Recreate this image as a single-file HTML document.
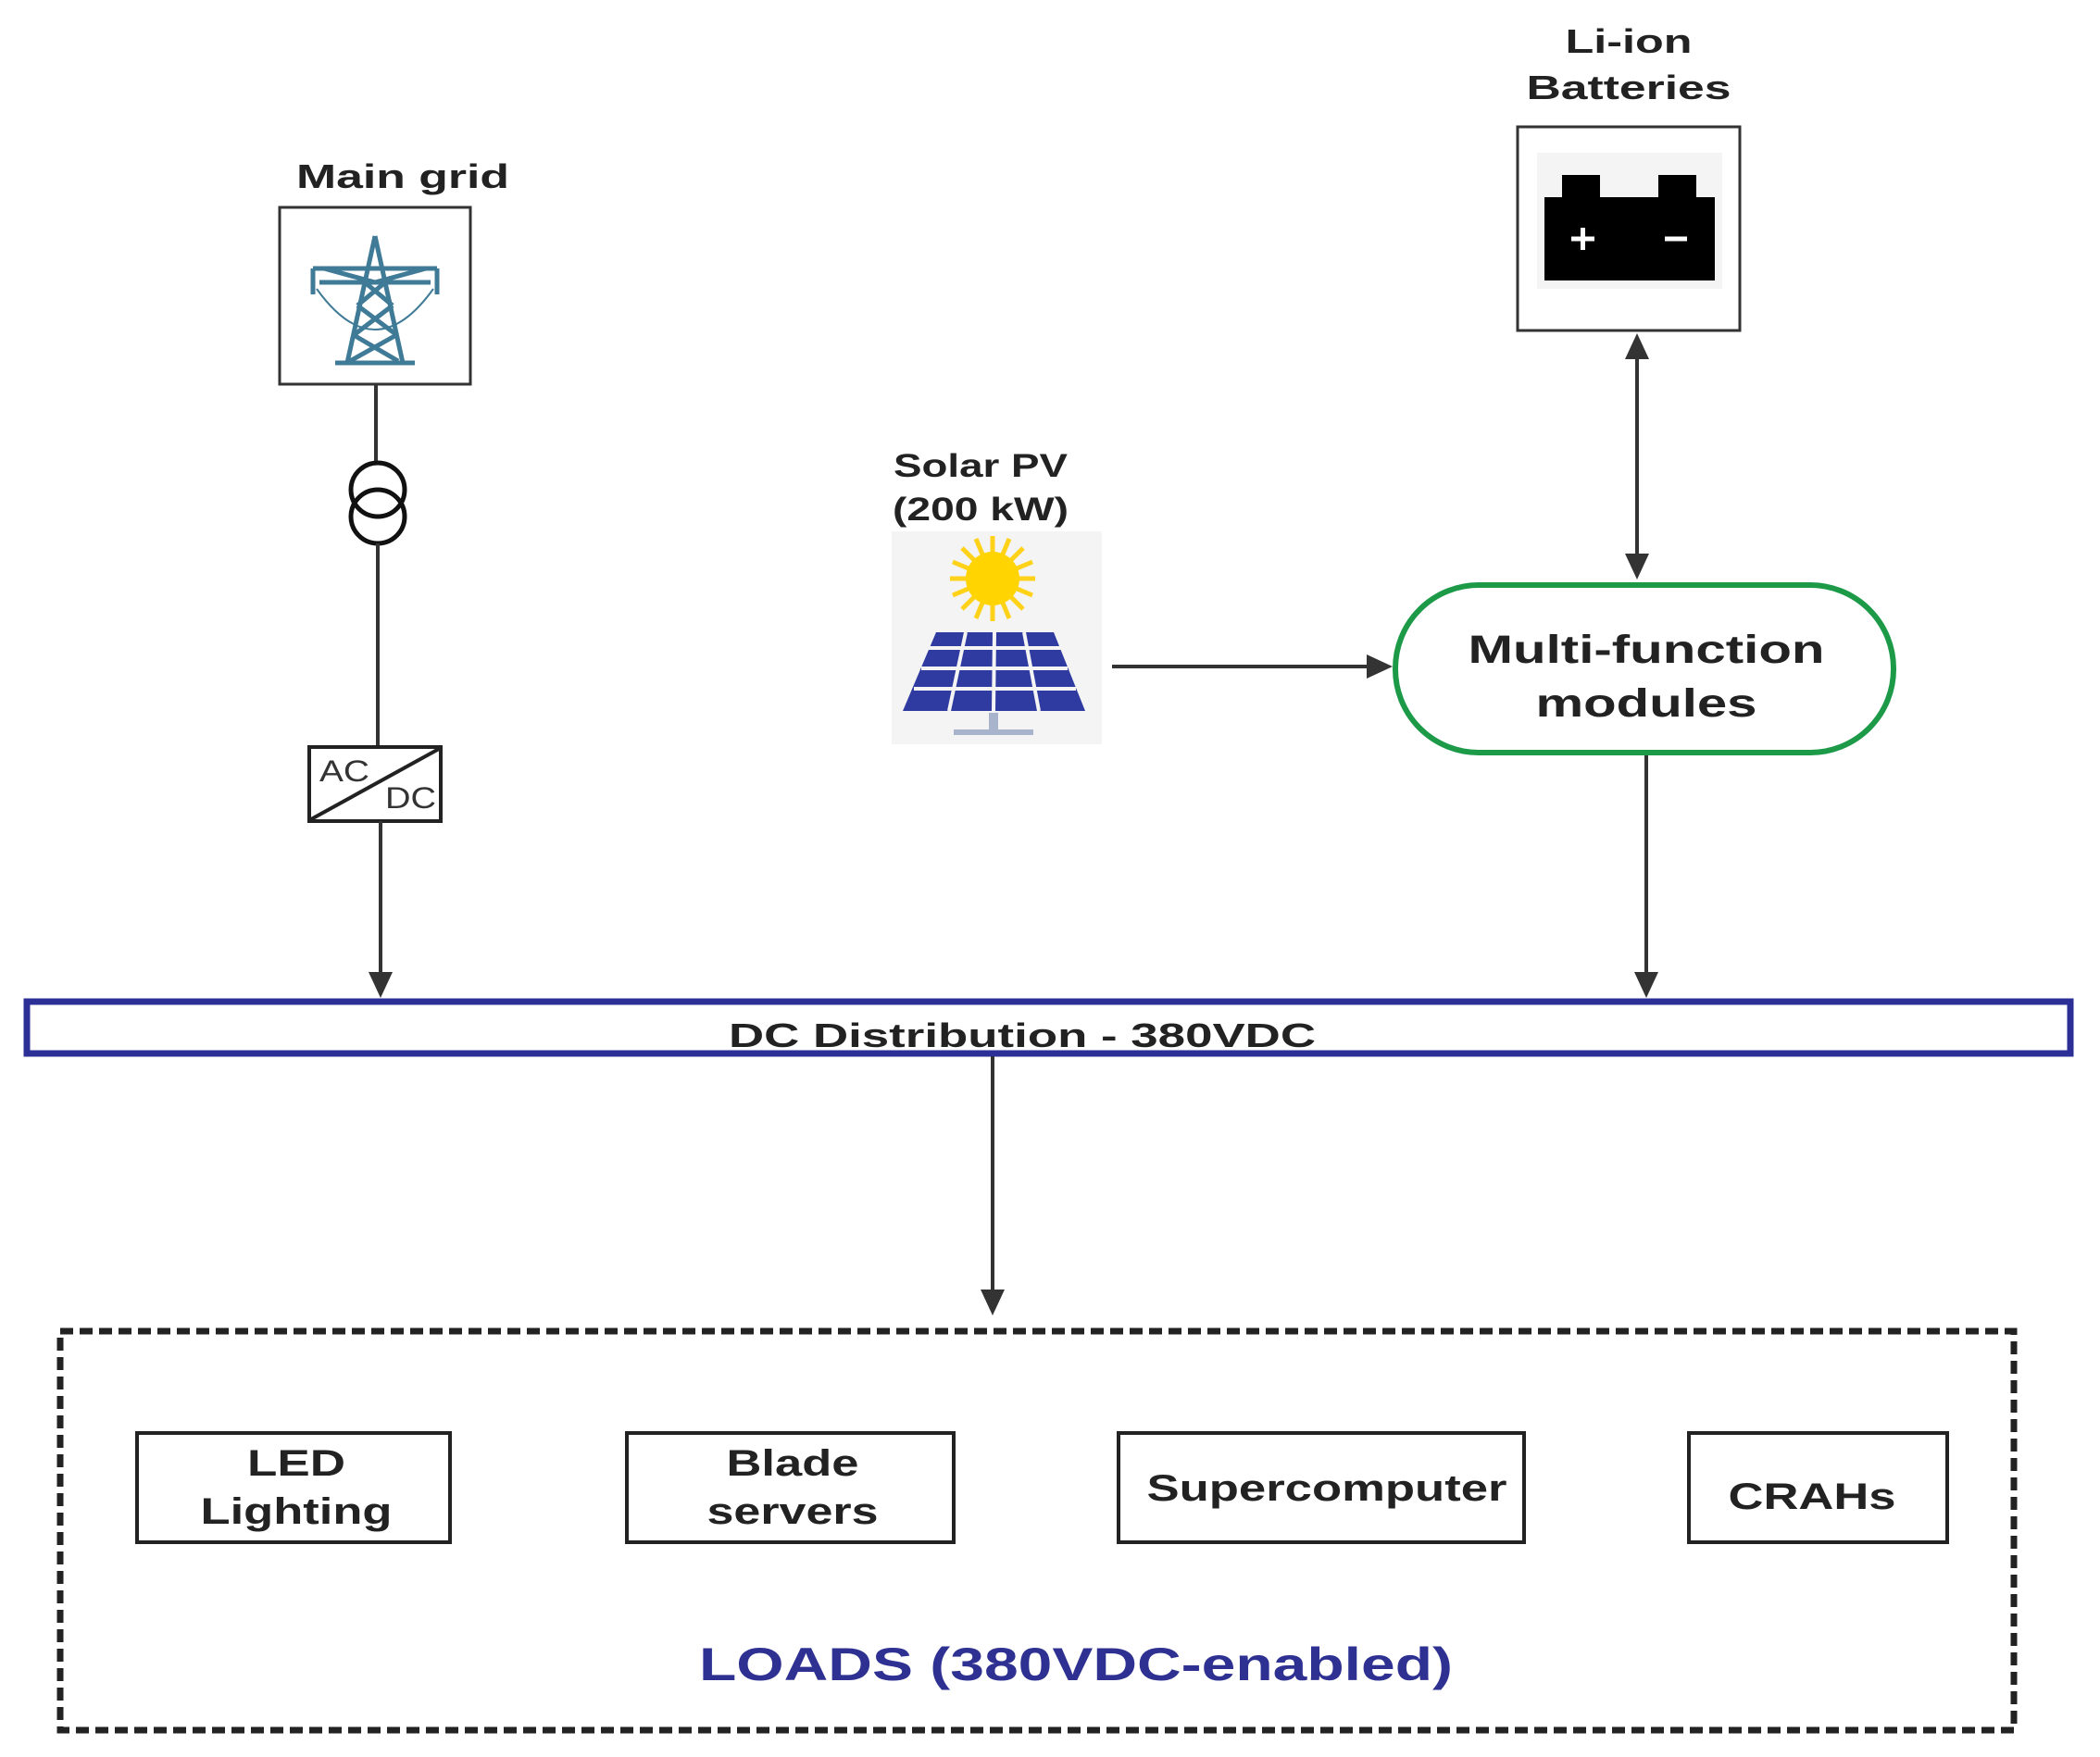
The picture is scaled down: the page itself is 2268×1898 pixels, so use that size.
<!DOCTYPE html>
<html><head><meta charset="utf-8"><style>
html,body{margin:0;padding:0;background:#fff;}
svg{display:block;}
text{font-family:"Liberation Sans",sans-serif;font-weight:bold;}
</style></head><body>
<svg width="2268" height="1898" viewBox="0 0 2268 1898" xmlns="http://www.w3.org/2000/svg">
<rect width="2268" height="1898" fill="#fff"/>

<!-- Main grid -->
<text x="435" y="203" font-size="36" text-anchor="middle" fill="#222" textLength="230" lengthAdjust="spacingAndGlyphs">Main grid</text>
<rect x="302" y="224" width="206" height="191" fill="#fff" stroke="#333" stroke-width="3"/>
<g stroke="#3f7a96" stroke-width="5" fill="none">
  <path d="M405 255 L375 392 M405 255 L435 392"/>
  <path d="M338 290 L472 290 M345 305 L465 305"/>
  <path d="M338 290 L338 318 M472 290 L472 318"/>
  <path d="M342 312 Q405 400 468 312" stroke-width="2"/>
  <path d="M388 300 L424 330 M422 300 L386 330 M386 330 L426 360 M424 330 L382 362 M382 362 L430 390 M428 362 L378 390"/>
  <path d="M362 392 L448 392"/>
  <path d="M350 290 L405 305 L460 290"/>
</g>
<line x1="406" y1="415" x2="406" y2="500" stroke="#333" stroke-width="4"/>
<circle cx="408" cy="529" r="29" fill="none" stroke="#111" stroke-width="5"/>
<circle cx="408" cy="558" r="29" fill="none" stroke="#111" stroke-width="5"/>
<line x1="408" y1="587" x2="408" y2="807" stroke="#333" stroke-width="4"/>
<rect x="334" y="807" width="142" height="80" fill="#fff" stroke="#222" stroke-width="4"/>
<line x1="336" y1="885" x2="474" y2="809" stroke="#222" stroke-width="4"/>
<text x="345" y="844" font-size="32" style="font-weight:normal" fill="#333" textLength="54" lengthAdjust="spacingAndGlyphs">AC</text>
<text x="416" y="873" font-size="32" style="font-weight:normal" fill="#333" textLength="55" lengthAdjust="spacingAndGlyphs">DC</text>
<line x1="411" y1="887" x2="411" y2="1052" stroke="#333" stroke-width="4"/>
<polygon points="398,1050 424,1050 411,1078" fill="#333"/>

<!-- DC bus -->
<rect x="29" y="1082" width="2207" height="56" fill="#fff" stroke="#2b2f96" stroke-width="7"/>
<text x="1104" y="1131" font-size="36" text-anchor="middle" fill="#222" textLength="634" lengthAdjust="spacingAndGlyphs">DC Distribution - 380VDC</text>
<line x1="1072" y1="1141" x2="1072" y2="1395" stroke="#333" stroke-width="4"/>
<polygon points="1059,1393 1085,1393 1072,1421" fill="#333"/>

<!-- Solar -->
<text x="1059" y="515" font-size="35" text-anchor="middle" fill="#222" textLength="188" lengthAdjust="spacingAndGlyphs">Solar PV</text>
<text x="1059" y="562" font-size="35" text-anchor="middle" fill="#222" textLength="190" lengthAdjust="spacingAndGlyphs">(200 kW)</text>
<rect x="963" y="574" width="227" height="230" fill="#f4f4f4"/>
<g transform="translate(1072,625)">
  <g stroke="#ffd21a" stroke-width="5">
    <line x1="-46" y1="0" x2="46" y2="0"/><line x1="0" y1="-46" x2="0" y2="46"/>
    <line x1="-33" y1="-33" x2="33" y2="33"/><line x1="-33" y1="33" x2="33" y2="-33"/>
    <line x1="-43" y1="-18" x2="43" y2="18"/><line x1="-43" y1="18" x2="43" y2="-18"/>
    <line x1="-18" y1="-43" x2="18" y2="43"/><line x1="18" y1="-43" x2="-18" y2="43"/>
  </g>
  <circle r="29" fill="#ffd400"/>
</g>
<polygon points="1011,683 1138,683 1172,768 975,768" fill="#2f3ba0"/>
<g stroke="#f4f4f4" stroke-width="4">
  <line x1="1003" y1="700" x2="1146" y2="700"/>
  <line x1="995" y1="722" x2="1153" y2="722"/>
  <line x1="987" y1="744" x2="1162" y2="744"/>
  <line x1="1043" y1="683" x2="1025" y2="768"/>
  <line x1="1074" y1="683" x2="1073" y2="768"/>
  <line x1="1106" y1="683" x2="1122" y2="768"/>
</g>
<rect x="1068" y="770" width="10" height="20" fill="#a8b3cc"/>
<rect x="1030" y="788" width="86" height="6" fill="#a8b3cc"/>
<line x1="1201" y1="720" x2="1478" y2="720" stroke="#333" stroke-width="4"/>
<polygon points="1476,707 1476,733 1504,720" fill="#333"/>

<!-- Multi-function modules -->
<rect x="1507" y="632" width="538" height="181" rx="90" ry="90" fill="#fff" stroke="#1c9a48" stroke-width="6"/>
<text x="1778" y="716" font-size="43" text-anchor="middle" fill="#222" textLength="385" lengthAdjust="spacingAndGlyphs">Multi-function</text>
<text x="1778" y="774" font-size="43" text-anchor="middle" fill="#222" textLength="239" lengthAdjust="spacingAndGlyphs">modules</text>
<line x1="1778" y1="816" x2="1778" y2="1052" stroke="#333" stroke-width="4"/>
<polygon points="1765,1050 1791,1050 1778,1078" fill="#333"/>

<!-- Batteries -->
<text x="1759" y="57" font-size="36" text-anchor="middle" fill="#222" textLength="137" lengthAdjust="spacingAndGlyphs">Li-ion</text>
<text x="1759" y="107" font-size="36" text-anchor="middle" fill="#222" textLength="221" lengthAdjust="spacingAndGlyphs">Batteries</text>
<rect x="1639" y="137" width="240" height="220" fill="#fff" stroke="#333" stroke-width="3"/>
<rect x="1660" y="165" width="200" height="147" fill="#f4f4f4"/>
<rect x="1687" y="189" width="41" height="24" fill="#000"/>
<rect x="1791" y="189" width="41" height="24" fill="#000"/>
<rect x="1668" y="213" width="184" height="90" fill="#000"/>
<path d="M1697 258 H1722 M1709.5 246 V270" stroke="#fff" stroke-width="5"/>
<path d="M1798 258 H1822" stroke="#fff" stroke-width="5"/>
<line x1="1768" y1="385" x2="1768" y2="600" stroke="#333" stroke-width="4"/>
<polygon points="1755,388 1781,388 1768,360" fill="#333"/>
<polygon points="1755,598 1781,598 1768,626" fill="#333"/>

<!-- Loads -->
<rect x="65" y="1438" width="2110" height="431" fill="none" stroke="#222" stroke-width="7" stroke-dasharray="14,7"/>
<g fill="#fff" stroke="#222" stroke-width="4">
  <rect x="148" y="1548" width="338" height="118"/>
  <rect x="677" y="1548" width="353" height="118"/>
  <rect x="1208" y="1548" width="438" height="118"/>
  <rect x="1824" y="1548" width="279" height="118"/>
</g>
<g font-size="40" text-anchor="middle" fill="#222">
  <text x="320" y="1594" textLength="106" lengthAdjust="spacingAndGlyphs">LED</text>
  <text x="320" y="1646" textLength="207" lengthAdjust="spacingAndGlyphs">Lighting</text>
  <text x="856" y="1594" textLength="143" lengthAdjust="spacingAndGlyphs">Blade</text>
  <text x="856" y="1646" textLength="185" lengthAdjust="spacingAndGlyphs">servers</text>
  <text x="1433" y="1621" textLength="389" lengthAdjust="spacingAndGlyphs">Supercomputer</text>
  <text x="1957" y="1630" textLength="181" lengthAdjust="spacingAndGlyphs">CRAHs</text>
</g>
<text x="1162" y="1815" font-size="50" text-anchor="middle" fill="#2e3192" textLength="814" lengthAdjust="spacingAndGlyphs">LOADS (380VDC-enabled)</text>
</svg>
</body></html>
